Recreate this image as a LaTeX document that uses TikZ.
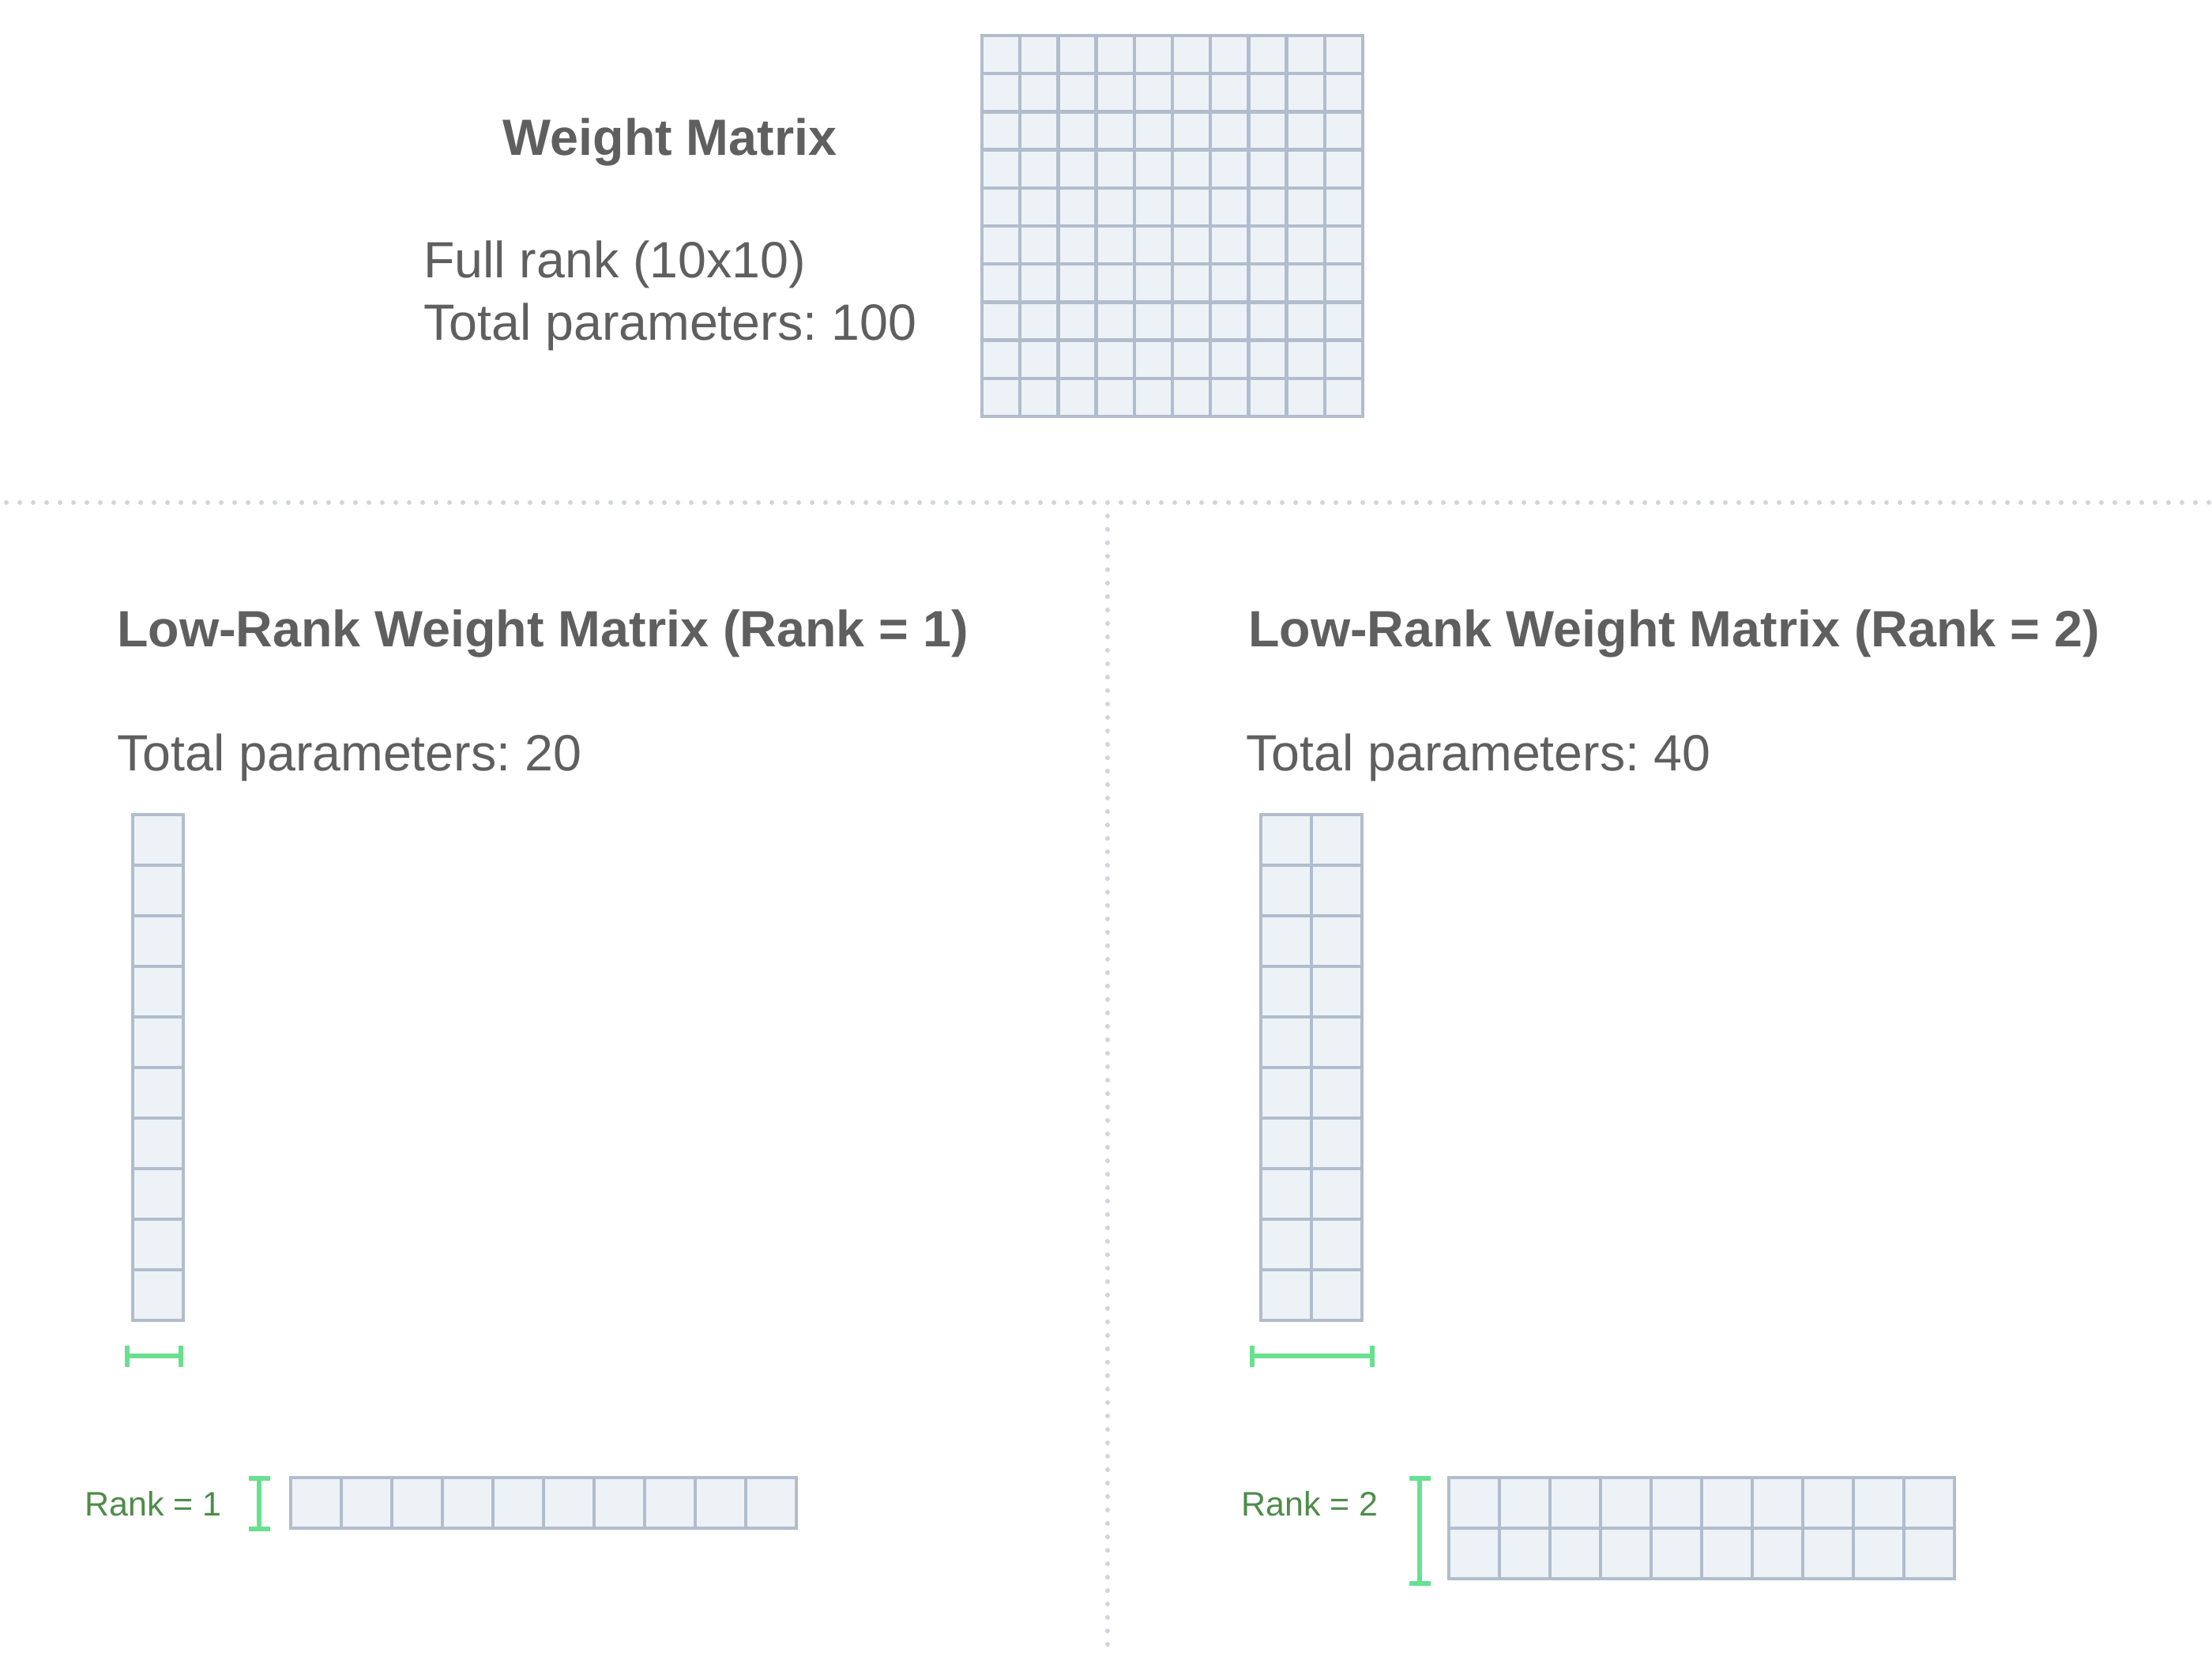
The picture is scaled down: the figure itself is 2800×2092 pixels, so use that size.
\documentclass[tikz,border=0pt]{standalone}
\usepackage{fontspec}
\setmainfont{Liberation Sans}
\frenchspacing
\definecolor{txt}{HTML}{5F5F5F}
\definecolor{cellfill}{HTML}{EDF2F7}
\definecolor{cellline}{HTML}{B1BDCD}
\definecolor{brk}{HTML}{68E08F}
\definecolor{rktxt}{HTML}{4E8C4A}
\definecolor{sep}{HTML}{D1D5DB}
\tikzset{
  gridline/.style={draw=cellline, line width=4.5pt},
  titletxt/.style={inner sep=0pt, text=txt, font=\fontsize{64.6}{76}\selectfont\bfseries},
  bodytxt/.style={inner sep=0pt, text=txt, font=\fontsize{64.5}{76}\selectfont},
  ranktxt/.style={inner sep=0pt, text=rktxt, font=\fontsize{43}{50}\selectfont},
  bracket/.style={draw=brk, line width=5.5pt},
  sepline/.style={draw=sep, line width=6pt, line cap=round, dash pattern=on 0pt off 17pt}
}
\newcommand\mygrid[5]{% x0 y0 cols rows cell
  \fill[cellfill] (#1,#2) rectangle ++(#3*#5,#4*#5);
  \foreach \i in {1,...,#3} \draw[gridline] ({#1+\i*#5-#5},#2) -- ++(0,#4*#5);
  \foreach \j in {1,...,#4} \draw[gridline] (#1,{#2+\j*#5-#5}) -- ++(#3*#5,0);
  \draw[gridline, line join=miter] (#1,#2) rectangle ++(#3*#5,#4*#5);
}
\begin{document}
\begin{tikzpicture}[x=1pt,y=-1pt]
\useasboundingbox (0,0) rectangle (2800,2092);
\fill[white] (0,0) rectangle (2800,2092);
% separators
\coordinate (hl) at (8,636);
\coordinate (hr) at (2800,636);
\coordinate (vt) at (1402,653);
\coordinate (vb) at (1402,2092);
\draw[sepline] (hl) -- (hr);
\draw[sepline] (vt) -- (vb);
% top section
\node[titletxt, anchor=base] (wm) at (848,197) {Weight Matrix};
\node[bodytxt, anchor=base west] (fr) at (536,352) {Full rank (10x10)};
\node[bodytxt, anchor=base west] (tp100) at (536,430) {Total parameters: 100};
\mygrid{1243}{45}{10}{10}{48.2}
% left section
\node[titletxt, anchor=base west] (t1) at (148,818) {Low-Rank Weight Matrix (Rank = 1)};
\node[bodytxt, anchor=base west] (p20) at (148,975) {Total parameters: 20};
\mygrid{168}{1031}{1}{10}{64}
\mygrid{368}{1870}{10}{1}{64}
\coordinate (b1a) at (161,1716);
\coordinate (b1b) at (229,1716);
\draw[bracket] (b1a) -- (b1b);
\draw[bracket] ([yshift=-13.5pt]b1a) -- ([yshift=13.5pt]b1a);
\draw[bracket] ([yshift=-13.5pt]b1b) -- ([yshift=13.5pt]b1b);
\coordinate (v1a) at (328,1871);
\coordinate (v1b) at (328,1935);
\draw[bracket] (v1a) -- (v1b);
\draw[bracket] ([xshift=-13.5pt]v1a) -- ([xshift=13.5pt]v1a);
\draw[bracket] ([xshift=-13.5pt]v1b) -- ([xshift=13.5pt]v1b);
\node[ranktxt, anchor=base west] (r1) at (107,1918) {Rank = 1};
% right section
\node[titletxt, anchor=base west] (t2) at (1580,818) {Low-Rank Weight Matrix (Rank = 2)};
\node[bodytxt, anchor=base west] (p40) at (1577,975) {Total parameters: 40};
\mygrid{1596}{1031}{2}{10}{64}
\mygrid{1834}{1870}{10}{2}{64}
\coordinate (b2a) at (1585,1716);
\coordinate (b2b) at (1737,1716);
\draw[bracket] (b2a) -- (b2b);
\draw[bracket] ([yshift=-13.5pt]b2a) -- ([yshift=13.5pt]b2a);
\draw[bracket] ([yshift=-13.5pt]b2b) -- ([yshift=13.5pt]b2b);
\coordinate (v2a) at (1797,1871);
\coordinate (v2b) at (1797,2004);
\draw[bracket] (v2a) -- (v2b);
\draw[bracket] ([xshift=-13.5pt]v2a) -- ([xshift=13.5pt]v2a);
\draw[bracket] ([xshift=-13.5pt]v2b) -- ([xshift=13.5pt]v2b);
\node[ranktxt, anchor=base west] (r2) at (1571,1918) {Rank = 2};
\end{tikzpicture}
\end{document}
